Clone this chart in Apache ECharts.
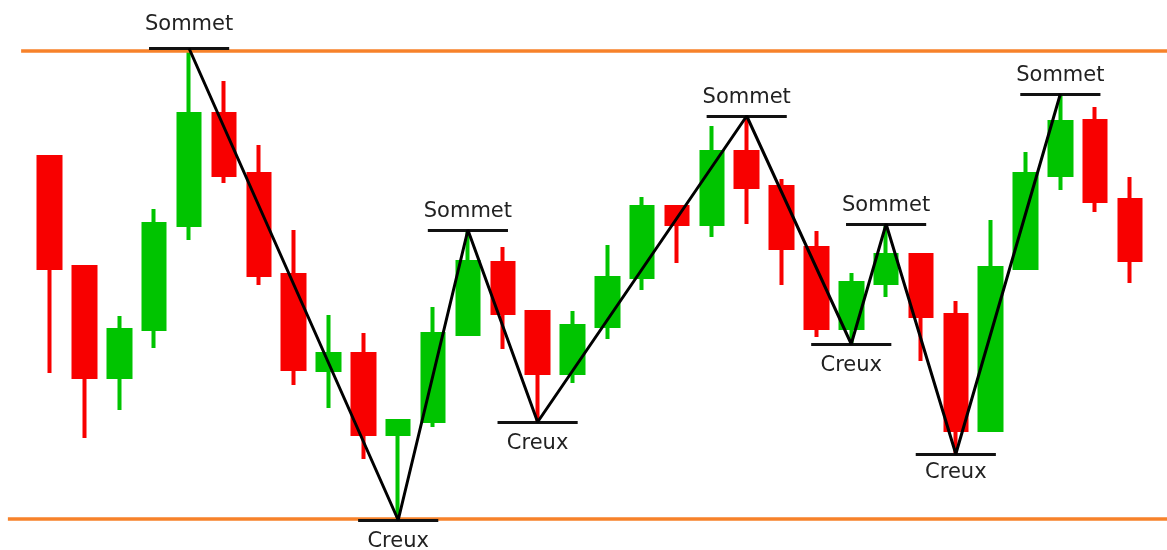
<!DOCTYPE html>
<html>
<head>
<meta charset="utf-8">
<script src="https://cdn.jsdelivr.net/npm/echarts@6/dist/echarts.min.js"></script>
<style>
  html, body { margin: 0; padding: 0; background: #fff; }
  #chart { width: 1167px; height: 550px; }
</style>
</head>
<body>
<div id="chart"></div>
<script>
// bougies (index 0..31)
var opens  = [78.6, 56.6, 34.6, 44.2, 65.0, 87.2, 75.2, 55.0, 36.0, 39.2, 23.2, 25.8, 43.2, 57.4, 47.6, 35.4,
              44.8, 54.6, 68.6, 65.2, 79.6, 72.6, 60.4, 44.4, 53.4, 59.0, 47.0, 24.0, 56.4, 75.0, 85.8, 70.0];
var closes = [56.4, 34.6, 44.0, 65.2, 87.2, 75.0, 55.0, 36.2, 39.2, 23.2, 25.8, 43.2, 57.6, 47.4, 35.4, 44.8,
              54.4, 68.6, 65.2, 79.6, 72.6, 60.4, 44.4, 53.4, 59.0, 46.8, 24.0, 56.4, 75.2, 85.6, 69.8, 58.0];
var lows   = [35.4, 22.4, 28.0, 40.4, 62.0, 73.4, 53.0, 33.0, 28.4, 18.2, 6.2, 24.6, 43.2, 40.2, 25.6, 33.4,
              42.2, 52.0, 57.4, 62.6, 65.2, 53.0, 42.6, 41.2, 50.6, 37.8, 19.2, 24.0, 56.4, 72.0, 67.6, 53.4];
var highs  = [78.6, 56.6, 46.8, 68.2, 99.8, 93.8, 81.0, 64.0, 47.0, 43.4, 25.8, 48.6, 64.0, 60.6, 47.6, 47.8,
              61.0, 70.6, 68.6, 84.8, 86.8, 74.2, 63.8, 55.4, 65.2, 59.0, 49.8, 66.0, 79.6, 91.2, 88.6, 74.6];

// sommets / creux
var pivotIdx   = [4, 10, 12, 14, 20, 23, 24, 26, 29];
var pivotVal   = [100.3, 6.0, 64.0, 25.6, 86.8, 41.2, 65.2, 19.2, 91.2];
var pivotLabel = ['Sommet', 'Creux', 'Sommet', 'Creux', 'Sommet', 'Creux', 'Sommet', 'Creux', 'Sommet'];

// resistance / support
var resistance = 99.9;
var support = 6.3;

var GREEN = '#00c400';
var RED = '#f80000';
var ORANGE = '#f7822a';

var chart = echarts.init(document.getElementById('chart'));

var candles = opens.map(function (o, i) {
  return [i, o, closes[i], lows[i], highs[i]];
});

var zigzag = pivotIdx.map(function (x, k) {
  return [x, pivotVal[k]];
});

// ecart texte / trait
var labelGap = [13, 11, 8, 11, 8, 11, 8, 8, 8];

var pivotLines = pivotIdx.map(function (x, k) {
  var top = pivotLabel[k] === 'Sommet';
  return [
    { name: pivotLabel[k], coord: [x - 1.15, pivotVal[k]],
      label: { position: top ? 'insideMiddleTop' : 'insideMiddleBottom', distance: labelGap[k] } },
    { coord: [x + 1.15, pivotVal[k]] }
  ];
});

var xMin = -1.426, xMax = 32.06;

chart.setOption({
  animation: false,
  backgroundColor: '#fff',
  grid: { left: 0, right: 0, top: 0, bottom: 0 },
  xAxis: { type: 'value', min: xMin, max: xMax, show: false },
  yAxis: { type: 'value', min: 0, max: 110, show: false },
  series: [
    {
      type: 'candlestick',
      data: candles,
      barWidth: 22,
      itemStyle: {
        color: GREEN, color0: RED,
        borderColor: GREEN, borderColor0: RED,
        borderWidth: 4
      },
      markLine: {
        silent: true,
        symbol: ['none', 'none'],
        label: { show: false },
        lineStyle: { color: ORANGE, width: 3.5, type: 'solid' },
        data: [
          [{ coord: [-0.82, resistance] }, { coord: [xMax, resistance] }],
          [{ coord: [-1.2, support] }, { coord: [xMax, support] }]
        ]
      }
    },
    {
      type: 'line',
      data: zigzag,
      symbol: 'none',
      z: 5,
      lineStyle: { color: '#000', width: 3 },
      markLine: {
        silent: true,
        symbol: ['none', 'none'],
        lineStyle: { color: '#111', width: 3, type: 'solid' },
        label: {
          show: true,
          formatter: '{b}',
          fontFamily: 'DejaVu Sans',
          fontSize: 21,
          color: '#222'
        },
        data: pivotLines
      }
    }
  ]
});
</script>
</body>
</html>
